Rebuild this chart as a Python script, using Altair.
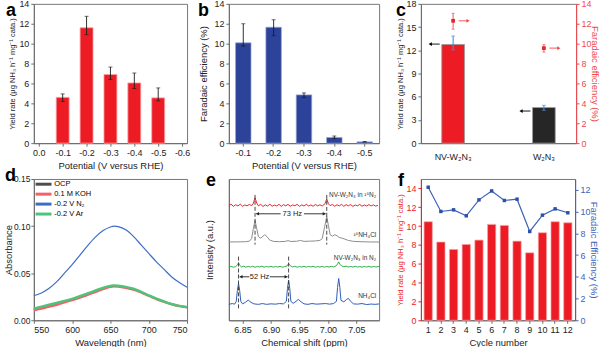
import altair as alt
import pandas as pd

FONT = "Liberation Sans"
RED = "#ED1C24"
RED_EDGE = "#F7A3A6"
BLUE_B = "#2D4299"
BLUE_F = "#3E62B8"
AX_RED = "#F2474C"
DARK = "#1a1a1a"
GRAY = "#6b6b6b"

YIELD_TITLE = "Yield rate (μg NH₃ h⁻¹ mg⁻¹ cata.)"

# ---------------- panel a ----------------
a_potential = [-0.1, -0.2, -0.3, -0.4, -0.5]
a_yield = [4.6, 11.6, 6.9, 6.05, 4.55]
a_err_low = [4.2, 10.9, 6.4, 5.5, 4.25]
a_err_high = [4.95, 12.75, 7.65, 7.05, 5.55]
a_ticks = [0.0, -0.1, -0.2, -0.3, -0.4, -0.5, -0.6]

# ---------------- panel b ----------------
b_potential = ["-0.1", "-0.2", "-0.3", "-0.4", "-0.5"]
b_fe = [10.08, 11.65, 4.85, 0.57, 0.13]
b_err_low = [9.75, 10.8, 4.6, 0.48, 0.1]
b_err_high = [12.0, 12.4, 5.05, 0.72, 0.16]

# ---------------- panel c ----------------
c_catalyst = ["NV-W₂N₃", "W₂N₃"]
c_yield = [12.75, 4.6]
c_yield_low = [12.05, 4.25]
c_yield_high = [13.85, 4.9]
c_yield_arrow = [12.8, 4.15]
c_fe = [12.3, 9.55]
c_fe_low = [11.45, 9.15]
c_fe_high = [13.05, 9.9]

# ---------------- panel d ----------------
d_wavelength = [550, 560, 570, 580, 590, 600, 610, 620, 630, 640, 650, 655,
                660, 670, 680, 690, 700, 710, 720, 730, 740, 750]
d_ocp = [0.012, 0.014, 0.016, 0.018, 0.020, 0.022, 0.025, 0.028, 0.031, 0.034,
         0.036, 0.0365, 0.036, 0.035, 0.033, 0.030, 0.026, 0.023, 0.020, 0.017,
         0.015, 0.014]
d_koh = [0.0105, 0.0125, 0.0145, 0.0165, 0.019, 0.0215, 0.024, 0.027, 0.030,
         0.033, 0.0355, 0.036, 0.0358, 0.0345, 0.0325, 0.0295, 0.026, 0.0225,
         0.0195, 0.017, 0.015, 0.0138]
d_n2 = [0.026, 0.029, 0.034, 0.041, 0.050, 0.059, 0.069, 0.079, 0.088, 0.095,
        0.099, 0.100, 0.0995, 0.096, 0.089, 0.080, 0.071, 0.062, 0.054, 0.046,
        0.040, 0.035]
d_ar = [0.0125, 0.0145, 0.0165, 0.0185, 0.0205, 0.0228, 0.0255, 0.0285, 0.0315,
        0.0345, 0.0365, 0.037, 0.0367, 0.0355, 0.0335, 0.0302, 0.0265, 0.023,
        0.020, 0.0172, 0.0152, 0.014]
d_series = ["OCP", "0.1 M KOH", "-0.2 V N₂", "-0.2 V Ar"]
d_colors = ["#4d4d4d", "#F26068", "#3D6CC8", "#4CC47A"]
d_widths = [1.0, 2.4, 1.2, 2.4]

# ---------------- panel e ----------------
e_red_ppm = [6.826, 6.830, 6.834, 6.838, 6.842, 6.846, 6.850, 6.854, 6.858, 6.862,
             6.866, 6.869, 6.872, 6.875, 6.878, 6.882, 6.886, 6.890, 6.894, 6.898,
             6.902, 6.906, 6.910, 6.914, 6.918, 6.922, 6.926, 6.930, 6.934, 6.938,
             6.942, 6.946, 6.950, 6.954, 6.958, 6.962, 6.966, 6.970, 6.974, 6.978,
             6.982, 6.986, 6.990, 6.995, 6.998, 7.001, 7.004, 7.008, 7.012, 7.016,
             7.020, 7.024, 7.028, 7.032, 7.036, 7.040, 7.044, 7.048, 7.052, 7.056,
             7.060, 7.064, 7.068, 7.072, 7.076, 7.080, 7.084, 7.088]
e_red_int = [115.0, 116.6, 114.5, 116.1, 114.9, 116.7, 114.6, 115.9, 115.0, 116.4,
             115.2, 117.5, 123.0, 117.8, 115.0, 116.5, 114.4, 116.0, 114.8, 116.6,
             114.6, 115.8, 114.9, 116.5, 114.5, 116.2, 115.0, 116.4, 114.6, 115.9,
             115.1, 116.5, 114.5, 116.0, 114.8, 116.5, 114.9, 115.9, 114.6, 116.3,
             115.0, 116.1, 114.8, 117.2, 122.0, 117.0, 115.2, 116.4, 114.6, 116.1,
             114.9, 116.5, 114.5, 116.2, 115.0, 116.3, 114.4, 115.9, 115.0, 116.4,
             114.6, 115.9, 114.8, 116.3, 114.9, 116.0, 114.7, 115.5]
e_gray_ppm = [6.826, 6.840, 6.855, 6.862, 6.866, 6.869, 6.872, 6.875, 6.878, 6.882,
              6.886, 6.889, 6.893, 6.898, 6.905, 6.915, 6.925, 6.930, 6.935, 6.945,
              6.952, 6.958, 6.968, 6.978, 6.986, 6.990, 6.994, 6.998, 7.001, 7.004,
              7.008, 7.012, 7.016, 7.020, 7.025, 7.030, 7.036, 7.045, 7.060, 7.075,
              7.090]
e_gray_int = [78.7, 78.8, 78.9, 79.5, 82.0, 92.0, 100.3, 92.0, 84.0, 82.5,
              84.5, 86.0, 84.0, 80.5, 79.2, 79.0, 79.3, 80.0, 79.2, 79.4,
              80.2, 79.3, 79.5, 79.7, 80.3, 82.0, 93.0, 104.3, 95.0, 86.0,
              84.5, 86.0, 85.0, 83.2, 82.5, 81.5, 80.2, 79.3, 78.9, 78.7,
              78.6]
e_green_ppm = [6.826, 6.830, 6.834, 6.838, 6.841, 6.843, 6.845, 6.848, 6.852, 6.856,
               6.860, 6.864, 6.868, 6.872, 6.876, 6.880, 6.884, 6.888, 6.892, 6.896,
               6.900, 6.904, 6.908, 6.912, 6.916, 6.920, 6.924, 6.928, 6.931, 6.934,
               6.938, 6.942, 6.946, 6.950, 6.954, 6.958, 6.962, 6.966, 6.970, 6.974,
               6.978, 6.982, 6.986, 6.990, 6.994, 6.998, 7.002, 7.006, 7.010, 7.014,
               7.017, 7.019, 7.021, 7.024, 7.028, 7.032, 7.036, 7.040, 7.044, 7.048,
               7.052, 7.056, 7.060, 7.064, 7.068, 7.072, 7.076, 7.080, 7.084, 7.090]
e_green_int = [53.5, 54.2, 53.3, 54.0, 55.5, 57.7, 55.3, 53.6, 54.3, 53.4,
               54.1, 53.5, 54.2, 53.3, 54.0, 53.6, 54.3, 53.4, 54.0, 53.5,
               54.2, 53.4, 54.1, 53.5, 54.2, 53.3, 54.0, 54.5, 57.0, 54.8,
               53.6, 54.2, 53.3, 54.0, 53.5, 54.3, 53.4, 54.1, 53.6, 54.2,
               53.3, 54.0, 53.5, 54.2, 53.4, 54.1, 53.5, 54.2, 53.6, 54.5,
               56.5, 58.7, 56.3, 54.6, 53.8, 54.3, 53.5, 54.1, 53.4, 54.2,
               53.5, 54.0, 53.3, 54.1, 53.5, 54.2, 53.4, 54.0, 53.6, 54.0]
e_blue_ppm = [6.826, 6.832, 6.836, 6.839, 6.841, 6.843, 6.845, 6.847, 6.850, 6.855,
              6.860, 6.865, 6.870, 6.878, 6.885, 6.892, 6.900, 6.908, 6.915, 6.922,
              6.927, 6.929, 6.931, 6.933, 6.935, 6.939, 6.944, 6.948, 6.953, 6.958,
              6.965, 6.972, 6.980, 6.988, 6.996, 7.003, 7.010, 7.015, 7.017, 7.019,
              7.021, 7.023, 7.028, 7.033, 7.036, 7.040, 7.045, 7.052, 7.060, 7.068,
              7.076, 7.083, 7.090]
e_blue_int = [16.0, 16.8, 16.2, 19.0, 30.0, 37.0, 30.0, 19.0, 16.5, 18.0,
              20.3, 18.0, 16.5, 16.0, 16.8, 16.0, 16.5, 16.2, 16.8, 16.5,
              19.0, 32.0, 40.3, 32.0, 19.0, 17.0, 19.0, 21.0, 18.5, 16.5,
              16.0, 16.8, 16.2, 16.5, 16.8, 16.2, 16.8, 19.0, 33.0, 42.0,
              33.0, 20.0, 18.5, 21.0, 22.0, 19.0, 16.5, 16.2, 16.8, 15.8,
              16.3, 16.0, 16.4]
e_dash_ppm = [6.872, 6.998, 6.843, 6.931]
e_dash_top = [126, 126, 64, 64]
e_dash_bottom = [76, 76, 12, 12]
e_arrow_start = [6.874, 6.958, 6.845, 6.898]
e_arrow_end = [6.917, 6.996, 6.862, 6.929]
e_arrow_y = [107, 107, 43.7, 43.7]
e_head_ppm = [6.8765, 6.9935, 6.8475, 6.9265]
e_head_y = [107, 107, 43.7, 43.7]
e_head_shape = ["triangle-left", "triangle-right", "triangle-left", "triangle-right"]
e_hz_text = ["73 Hz", "52 Hz"]
e_hz_ppm = [6.9375, 6.8800]
e_hz_y = [107, 43.7]
e_label_text = ["NV-W₂N₃ in ¹⁵N₂", "¹⁵NH₄Cl", "NV-W₂N₃ in N₂", "NH₄Cl"]
e_label_ppm = [7.085, 7.085, 7.085, 7.085]
e_label_y = [126, 86, 63, 24.7]
e_ticks = [6.85, 6.90, 6.95, 7.00, 7.05]

# ---------------- panel f ----------------
f_cycle = [1, 2, 3, 4, 5, 6, 7, 8, 9, 10, 11, 12]
f_yield = [10.46, 8.30, 7.52, 8.05, 8.51, 10.18, 10.07, 8.40, 7.16, 9.29, 10.46, 10.35]
f_fe = [12.24, 10.01, 10.16, 9.61, 11.08, 11.90, 11.02, 11.14, 8.17, 9.67, 10.25, 9.89]


def panel_label(letter, dx, dy):
    return alt.Chart(pd.DataFrame({"t": [letter]})).mark_text(
        align="left", baseline="alphabetic", fontSize=18, fontWeight="bold",
        font=FONT, color="black"
    ).encode(x=alt.value(dx), y=alt.value(dy), text="t:N")


def caps(df, x_enc, y_field, y_scale_enc, color, size=4):
    return alt.Chart(df).mark_tick(orient="horizontal", size=size, thickness=0.9,
                                   color=color).encode(x=x_enc, y=y_scale_enc(y_field))


# ======== a ========
dfa = pd.DataFrame({"potential": a_potential, "yield": a_yield,
                    "low": a_err_low, "high": a_err_high})
xa = alt.X("potential:Q", scale=alt.Scale(domain=[0.0, -0.6], nice=False, zero=False),
           axis=alt.Axis(values=a_ticks, format=".1f",
                         labelExpr="replace(datum.label, '\u2212', '-')",
                         title="Potential (V versus RHE)"))
ya_axis = alt.Axis(values=list(range(0, 15, 2)), title=YIELD_TITLE, titleFontSize=7.6, titleX=-17)
ya_scale = alt.Scale(domain=[0, 14], nice=False)


def ya(f):
    return alt.Y(f"{f}:Q", scale=ya_scale, axis=ya_axis)


A = alt.layer(
    alt.Chart(dfa).mark_bar(size=13, color=RED, stroke=RED_EDGE, strokeWidth=0.8).encode(x=xa, y=ya("yield")),
    alt.Chart(dfa).mark_rule(color=DARK, strokeWidth=0.9).encode(x=xa, y=ya("low"), y2="high:Q"),
    caps(dfa, xa, "low", ya, DARK),
    caps(dfa, xa, "high", ya, DARK),
    panel_label("a", -28, 12),
).properties(width=154, height=140)

# ======== b ========
dfb = pd.DataFrame({"potential": b_potential, "fe": b_fe, "low": b_err_low, "high": b_err_high})
xb = alt.X("potential:N", sort=b_potential,
           scale=alt.Scale(paddingInner=0.49, paddingOuter=0.22),
           axis=alt.Axis(labelAngle=0, title="Potential (V versus RHE)"))
yb_axis = alt.Axis(values=list(range(0, 15, 2)), title="Faradaic efficiency (%)", titleX=-20)
yb_scale = alt.Scale(domain=[0, 14], nice=False)


def yb(f):
    return alt.Y(f"{f}:Q", scale=yb_scale, axis=yb_axis)


B = alt.layer(
    alt.Chart(dfb).mark_bar(color=BLUE_B, stroke="#98A6D6", strokeWidth=0.7).encode(x=xb, y=yb("fe")),
    alt.Chart(dfb).mark_rule(color=DARK, strokeWidth=0.9).encode(x=xb, y=yb("low"), y2="high:Q"),
    caps(dfb, xb, "low", yb, DARK),
    caps(dfb, xb, "high", yb, DARK),
    panel_label("b", -31, 12),
).properties(width=151, height=140)

# ======== c ========
dfc = pd.DataFrame({"catalyst": c_catalyst, "yield": c_yield, "ylow": c_yield_low,
                    "yhigh": c_yield_high, "arrow": c_yield_arrow,
                    "fe": c_fe, "flow": c_fe_low, "fhigh": c_fe_high})
xc = alt.X("catalyst:N", sort=c_catalyst,
           scale=alt.Scale(paddingInner=0.75, paddingOuter=0.23),
           axis=alt.Axis(labelAngle=0, title=None, ticks=False, labelPadding=9))
yc_axis = alt.Axis(values=list(range(0, 19, 3)), title=YIELD_TITLE, titleFontSize=7.6, titleX=-16)
yc_scale = alt.Scale(domain=[0, 18], nice=False)
yr_axis = alt.Axis(values=list(range(0, 15, 2)), title="Faradaic efficiency (%)", orient="right",
                   labelColor=AX_RED, titleColor=AX_RED, domainColor=AX_RED, tickColor=AX_RED,
                   titleX=13)
yr_scale = alt.Scale(domain=[0, 14], nice=False)


def yc(f):
    return alt.Y(f"{f}:Q", scale=yc_scale, axis=yc_axis)


def yr(f):
    return alt.Y(f"{f}:Q", scale=yr_scale, axis=yr_axis)


left_c = alt.layer(
    alt.Chart(dfc).mark_bar(stroke="#999999", strokeWidth=0.8).encode(
        x=xc, y=yc("yield"),
        color=alt.Color("catalyst:N", sort=c_catalyst,
                        scale=alt.Scale(domain=c_catalyst, range=[RED, "#262626"]), legend=None)),
    alt.Chart(dfc).mark_rule(color="#4A8FD8", strokeWidth=1.1).encode(x=xc, y=yc("ylow"), y2="yhigh:Q"),
    caps(dfc, xc, "ylow", yc, "#4A8FD8"),
    caps(dfc, xc, "yhigh", yc, "#4A8FD8"),
    alt.Chart(dfc).mark_tick(orient="horizontal", size=9, thickness=1.3, color="black", xOffset=-18).encode(x=xc, y=yc("arrow")),
    alt.Chart(dfc).mark_point(shape="triangle-left", size=14, filled=True, color="black", opacity=1, xOffset=-23).encode(x=xc, y=yc("arrow")),
)
right_c = alt.layer(
    alt.Chart(dfc).mark_rule(color=AX_RED, strokeWidth=0.9).encode(x=xc, y=yr("flow"), y2="fhigh:Q"),
    caps(dfc, xc, "flow", yr, AX_RED, 3),
    caps(dfc, xc, "fhigh", yr, AX_RED, 3),
    alt.Chart(dfc).mark_square(size=14, color="#E8242A", opacity=1).encode(x=xc, y=yr("fe")),
    alt.Chart(dfc).mark_tick(orient="horizontal", size=9, thickness=1.3, color=AX_RED, xOffset=10).encode(x=xc, y=yr("fe")),
    alt.Chart(dfc).mark_point(shape="triangle-right", size=14, filled=True, color=AX_RED, opacity=1, xOffset=15).encode(x=xc, y=yr("fe")),
)
C = alt.layer(left_c, right_c, panel_label("c", -25, 12)).resolve_scale(y="independent").properties(width=156, height=140)

# ======== d ========
rows = []
for name, vals, w in zip(d_series, [d_ocp, d_koh, d_n2, d_ar], d_widths):
    for wl, v in zip(d_wavelength, vals):
        rows.append({"series": name, "wavelength": wl, "absorbance": v, "sw": w})
dfd = pd.DataFrame(rows)
D = alt.layer(
    alt.Chart(dfd).mark_line(interpolate="monotone").encode(
        x=alt.X("wavelength:Q", scale=alt.Scale(domain=[550, 750], nice=False, zero=False),
                axis=alt.Axis(values=[550, 600, 650, 700, 750], title="Wavelength (nm)")),
        y=alt.Y("absorbance:Q", scale=alt.Scale(domain=[0, 0.15], nice=False),
                axis=alt.Axis(values=[0, 0.05, 0.10, 0.15], format=".2f", title="Absorbance",
                              titleX=-20, labelFontSize=8.5, labelPadding=1)),
        color=alt.Color("series:N", sort=d_series,
                        scale=alt.Scale(domain=d_series, range=d_colors),
                        legend=alt.Legend(orient="none", legendX=6, legendY=1.5, title=None,
                                          symbolType="M-4,0H4", symbolSize=16,
                                          symbolStrokeWidth=3, labelFontSize=7.5,
                                          rowPadding=-4, padding=0, labelOffset=7)),
        strokeWidth=alt.StrokeWidth("sw:Q", scale=None, legend=None),
    ),
    panel_label("d", -29, 2),
).properties(width=154, height=142)

# ======== e ========
tr = []
for name, pp, ii in [("red", e_red_ppm, e_red_int), ("gray", e_gray_ppm, e_gray_int),
                     ("green", e_green_ppm, e_green_int), ("blue", e_blue_ppm, e_blue_int)]:
    for p, i in zip(pp, ii):
        tr.append({"trace": name, "ppm": p, "int": i})
dfe = pd.DataFrame(tr)
xe_scale = alt.Scale(domain=[6.826, 7.090], nice=False, zero=False)
ye_scale = alt.Scale(domain=[0, 142], nice=False)
xe_axis = alt.Axis(values=e_ticks, format=".2f", title="Chemical shift (ppm)")
xe = alt.X("ppm:Q", scale=xe_scale, axis=xe_axis)
ye_axis = alt.Axis(title="Intensity (a.u.)", labels=False, ticks=False, titleX=-14)


def ye(f):
    return alt.Y(f"{f}:Q", scale=ye_scale, axis=ye_axis)


dash_df = pd.DataFrame({"ppm": e_dash_ppm, "top": e_dash_top, "bottom": e_dash_bottom})
arr_df = pd.DataFrame({"start": e_arrow_start, "end": e_arrow_end, "y": e_arrow_y})
head_df = pd.DataFrame({"ppm": e_head_ppm, "y": e_head_y, "shape": e_head_shape})
hz_df = pd.DataFrame({"ppm": e_hz_ppm, "y": e_hz_y, "t": e_hz_text})
lab_df = pd.DataFrame({"ppm": e_label_ppm, "y": e_label_y, "t": e_label_text})

E = alt.layer(
    alt.Chart(dfe).mark_line(strokeWidth=1.0).encode(
        x=xe, y=ye("int"),
        color=alt.Color("trace:N", scale=alt.Scale(domain=["red", "gray", "green", "blue"],
                                                   range=["#E8242A", "#8C8C8C", "#2EAE4E", "#2E5CB8"]),
                        legend=None),
        detail="trace:N"),
    alt.Chart(dash_df).mark_rule(strokeDash=[4, 2], color="#333333", strokeWidth=0.9).encode(
        x=xe, y=ye("top"), y2="bottom:Q"),
    alt.Chart(arr_df).mark_rule(color="#222222", strokeWidth=0.9).encode(
        x=alt.X("start:Q", scale=xe_scale, axis=xe_axis), x2="end:Q", y=ye("y")),
    alt.Chart(head_df).mark_point(filled=True, size=12, color="#222222", opacity=1).encode(
        x=xe, y=ye("y"), shape=alt.Shape("shape:N", scale=None)),
    alt.Chart(hz_df).mark_text(fontSize=7.5, font=FONT, color="#222222").encode(
        x=xe, y=ye("y"), text="t:N"),
    alt.Chart(lab_df).mark_text(fontSize=6.5, font=FONT, color="#333333", align="right").encode(
        x=xe, y=ye("y"), text="t:N"),
    panel_label("e", -23, 7),
).properties(width=151, height=142)

# ======== f ========
dff = pd.DataFrame({"cycle": f_cycle, "yield": f_yield, "fe": f_fe})
xf = alt.X("cycle:O", scale=alt.Scale(paddingInner=0.35, paddingOuter=0.25),
           axis=alt.Axis(labelAngle=0, title="Cycle number"))
bars_f = alt.Chart(dff).mark_bar(color=RED, stroke=RED_EDGE, strokeWidth=0.7).encode(
    x=xf,
    y=alt.Y("yield:Q", scale=alt.Scale(domain=[0, 15], nice=False),
            axis=alt.Axis(values=list(range(0, 15, 2)), title=YIELD_TITLE, titleFontSize=7.6,
                          labelColor=RED, titleColor=RED, domainColor=RED, tickColor=RED,
                          titleX=-16)))
fe_y = alt.Y("fe:Q", scale=alt.Scale(domain=[0, 13], nice=False),
             axis=alt.Axis(values=list(range(0, 13, 2)), title="Faradaic Efficiency (%)", orient="right",
                           labelColor=BLUE_F, titleColor=BLUE_F, domainColor=BLUE_F, tickColor=BLUE_F,
                           titleX=13))
line_f = alt.layer(
    alt.Chart(dff).mark_line(color=BLUE_F, strokeWidth=1.2).encode(x=xf, y=fe_y),
    alt.Chart(dff).mark_square(color="#2D4FA8", size=12, opacity=1).encode(x=xf, y=fe_y),
)
F = alt.layer(bars_f, line_f, panel_label("f", -23, 7)).resolve_scale(y="independent").properties(width=155, height=142)

chart = alt.concat(
    A, B, C, D, E, F, columns=3, spacing={"row": 36, "column": 42}, bounds="flush"
).resolve_scale(
    color="independent", shape="independent", strokeWidth="independent"
).properties(
    padding={"left": 3, "top": -2, "right": 0, "bottom": 0}
).configure(font=FONT).configure_axis(
    labelFont=FONT, titleFont=FONT, labelFontSize=9, titleFontSize=9.5,
    titleFontWeight="normal", labelColor="#222222", titleColor="#222222",
    domainColor=GRAY, tickColor=GRAY, tickSize=3, labelPadding=2, titlePadding=3, grid=False
).configure_view(stroke="#777777", strokeWidth=1).configure_legend(labelFont=FONT)

chart.save("out.html", embed_options={"renderer": "svg", "actions": False})
